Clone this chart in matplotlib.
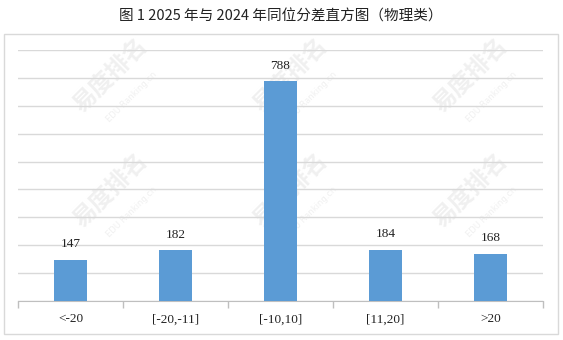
import matplotlib.pyplot as plt
from matplotlib.patches import Rectangle

plt.rcParams['font.family'] = ['Noto Sans CJK SC', 'DejaVu Sans']

categories = ['<-20', '[-20,-11]', '[-10,10]', '[11,20]', '>20']
counts = [147, 182, 788, 184, 168]
title = '图 1 2025 年与 2024 年同位分差直方图（物理类）'

fig = plt.figure(figsize=(5.63, 3.40), dpi=100)
fig.patch.set_facecolor('white')

# background layer: frame + faint watermarks
bg = fig.add_axes([0, 0, 1, 1], zorder=-1)
bg.set_xlim(0, 563)
bg.set_ylim(340, 0)
bg.axis('off')
bg.add_patch(Rectangle((4, 34), 554, 300, fill=False, edgecolor='#d9d9d9', linewidth=1))
for wx in [110, 290, 470]:
    for wy in [75, 190]:
        bg.text(wx, wy, '易度排名', rotation=45, fontsize=17, fontweight='bold',
                color='#f0f0f0', ha='center', va='center')
        bg.text(wx + 22, wy + 22, 'EDU Ranking.cn', rotation=45, fontsize=6,
                color='#f0f0f0', ha='center', va='center', family='DejaVu Sans')

bg.text(281, 17, title, ha='center', va='center', fontsize=10.5, color='#222222')

ax = fig.add_axes([18 / 563, 1 - 301 / 340, 525 / 563, 251 / 340], zorder=1)
ax.patch.set_alpha(0)
x = range(len(categories))
ax.bar(x, counts, width=0.31, color='#5b9bd5', zorder=3)
for xi, v in zip(x, counts):
    ax.annotate(str(v), (xi, v), xytext=(0, 7), textcoords='offset points',
                ha='center', va='bottom', fontsize=9.5, family='Liberation Serif',
                color='#222222')

ax.set_xlim(-0.5, len(categories) - 0.5)
ax.set_ylim(0, 900)
ax.set_yticks(range(0, 901, 100))
ax.yaxis.grid(True, color='#d9d9d9', linewidth=1, zorder=0)
ax.tick_params(axis='y', left=False, labelleft=False)
ax.set_xticks([i - 0.5 for i in range(len(categories) + 1)])
ax.set_xticklabels([])
ax.tick_params(axis='x', which='major', length=5, color='#bfbfbf', width=1)
ax.set_xticks(list(x), minor=True)
ax.set_xticklabels(categories, minor=True, family='Liberation Serif', fontsize=9.5,
                   color='#222222')
ax.tick_params(axis='x', which='minor', length=0, pad=9)
for s in ['top', 'right', 'left']:
    ax.spines[s].set_visible(False)
ax.spines['bottom'].set_color('#bfbfbf')

fig.savefig('out.png', dpi=100)
